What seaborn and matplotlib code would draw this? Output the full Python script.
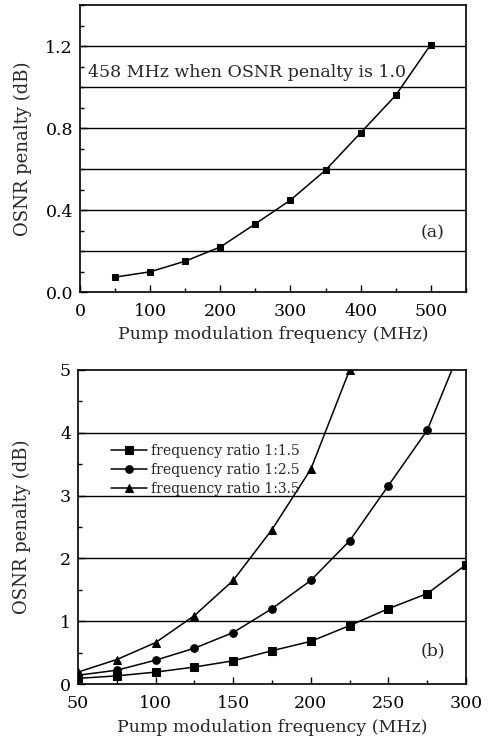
import matplotlib
matplotlib.use("Agg")
import matplotlib.pyplot as plt
from matplotlib.ticker import MultipleLocator
import seaborn as sns
import pandas as pd

# Panel (a)
freq_a = [50, 100, 150, 200, 250, 300, 350, 400, 450, 500]
penalty_a = [0.073, 0.099, 0.151, 0.22, 0.333, 0.449, 0.595, 0.777, 0.96, 1.208]

# Panel (b)
freq_b = [50, 75, 100, 125, 150, 175, 200, 225, 250, 275, 300]
ratio_15 = [0.09, 0.13, 0.19, 0.27, 0.37, 0.53, 0.68, 0.93, 1.20, 1.44, 1.90]
ratio_25 = [0.14, 0.22, 0.38, 0.57, 0.82, 1.20, 1.65, 2.28, 3.16, 4.04, 5.55]
freq_b3 = [50, 75, 100, 125, 150, 175, 200, 225]
ratio_35 = [0.19, 0.39, 0.66, 1.09, 1.65, 2.46, 3.42, 5.0]
labels_b = ["frequency ratio 1:1.5", "frequency ratio 1:2.5", "frequency ratio 1:3.5"]

sns.set_style("ticks")
plt.rcParams["font.family"] = ["DejaVu Serif"]
plt.rcParams["mathtext.fontset"] = "dejavuserif"

fig = plt.figure(figsize=(4.89, 7.47), dpi=100)
ax1 = fig.add_axes([0.1636, 0.609, 0.789, 0.384])
ax2 = fig.add_axes([0.1595, 0.0843, 0.7935, 0.4204])

fs = 12.5
for ax in (ax1, ax2):
    for s in ax.spines.values():
        s.set_linewidth(1.2)
        s.set_color("black")
    ax.tick_params(which="both", direction="in", top=False, right=False,
                   labelsize=fs, colors="black")
    ax.tick_params(axis="x", which="major", pad=8)
    ax.tick_params(axis="y", which="major", pad=5)
    ax.tick_params(which="major", length=5, width=1)
    ax.tick_params(which="minor", length=3, width=1)

# ---- (a)
df_a = pd.DataFrame({"f": freq_a, "p": penalty_a})
for yv in [0.2, 0.4, 0.6, 0.8, 1.0, 1.2]:
    ax1.axhline(yv, color="black", lw=1.0, zorder=0)
sns.lineplot(data=df_a, x="f", y="p", ax=ax1, color="black", lw=1.1,
             marker="s", markersize=5, markeredgecolor="black")
ax1.set_xlim(0, 550)
ax1.set_ylim(0, 1.4)
ax1.xaxis.set_major_locator(MultipleLocator(100))
ax1.xaxis.set_minor_locator(MultipleLocator(50))
ax1.yaxis.set_major_locator(MultipleLocator(0.4))
ax1.yaxis.set_minor_locator(MultipleLocator(0.1))
ax1.set_yticklabels([f"{v:.1f}" for v in ax1.get_yticks()])
ax1.set_xlabel("Pump modulation frequency (MHz)", fontsize=fs, labelpad=4)
ax1.set_ylabel("OSNR penalty (dB)", fontsize=13, labelpad=10)
ax1.text(12, 1.072, "458 MHz when OSNR penalty is 1.0", fontsize=fs,
         va="center", ha="left")
ax1.text(503, 0.29, "(a)", fontsize=fs, ha="center", va="center")

# ---- (b)
for yv in [1, 2, 3, 4]:
    ax2.axhline(yv, color="black", lw=1.0, zorder=0)
df_b = pd.concat([
    pd.DataFrame({"f": freq_b, "p": ratio_15, "s": labels_b[0]}),
    pd.DataFrame({"f": freq_b, "p": ratio_25, "s": labels_b[1]}),
    pd.DataFrame({"f": freq_b3, "p": ratio_35, "s": labels_b[2]}),
])
sns.lineplot(data=df_b, x="f", y="p", hue="s", style="s", ax=ax2,
             palette=["black"] * 3, markers=["s", "o", "^"], dashes=False,
             lw=1.1, markersize=5.5, markeredgecolor="black")
ax2.set_xlim(50, 300)
ax2.set_ylim(0, 5)
ax2.xaxis.set_major_locator(MultipleLocator(50))
ax2.xaxis.set_minor_locator(MultipleLocator(25))
ax2.yaxis.set_major_locator(MultipleLocator(1))
ax2.yaxis.set_minor_locator(MultipleLocator(0.5))
ax2.set_xlabel("Pump modulation frequency (MHz)", fontsize=fs, labelpad=5)
ax2.set_ylabel("OSNR penalty (dB)", fontsize=13, labelpad=21)
ax2.text(279, 0.53, "(b)", fontsize=fs, ha="center", va="center")
leg = ax2.legend(loc="upper left", bbox_to_anchor=(0.06, 0.795), frameon=False,
                 fontsize=10, handlelength=2.6, handletextpad=0.3,
                 labelspacing=0.35, borderpad=0.2, markerscale=1.0)
leg.set_title(None)

fig.savefig("out.png", dpi=100)
